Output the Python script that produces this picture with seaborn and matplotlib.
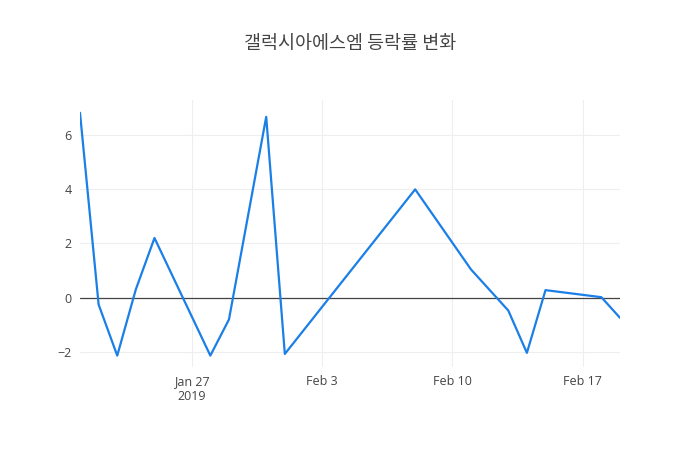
import matplotlib
matplotlib.use('Agg')
import matplotlib.pyplot as plt
import seaborn as sns
import pandas as pd

# trading days and daily change rate (%)
dates = ['2019-01-21', '2019-01-22', '2019-01-23', '2019-01-24', '2019-01-25',
         '2019-01-28', '2019-01-29', '2019-01-31', '2019-02-01', '2019-02-08',
         '2019-02-11', '2019-02-13', '2019-02-14', '2019-02-15', '2019-02-18',
         '2019-02-19']
rates = [6.81, -0.25, -2.13, 0.31, 2.2,
         -2.13, -0.8, 6.66, -2.07, 3.99,
         1.04, -0.47, -2.03, 0.28, 0.02,
         -0.74]
title = '갤럭시아에스엠 등락률 변화'

df = pd.DataFrame({'date': pd.to_datetime(dates), 'rate': rates})

sns.set_style('white')
plt.rcParams['font.family'] = ['Open Sans', 'Noto Sans CJK KR', 'DejaVu Sans']

fig = plt.figure(figsize=(7, 4.5), dpi=100)
ax = fig.add_axes([80 / 700, 1 - 367 / 450, 540 / 700, 267 / 450])

ax.axhline(0, color='#444444', lw=0.9, zorder=1)
sns.lineplot(data=df, x='date', y='rate', ax=ax, color='#1a7fe6', lw=1.6, zorder=3)

ax.set_xlim(df['date'].min(), df['date'].max())
ax.set_ylim(-2.55, 7.28)
ax.set_yticks([-2, 0, 2, 4, 6])
ax.set_yticklabels(['\u22122', '0', '2', '4', '6'])

xt = pd.to_datetime(['2019-01-27', '2019-02-03', '2019-02-10', '2019-02-17'])
ax.set_xticks(xt)
ax.set_xticklabels(['Jan 27\n2019', 'Feb 3', 'Feb 10', 'Feb 17'])

ax.grid(True, color='#eeeeee', lw=0.8, zorder=0)
for s in ax.spines.values():
    s.set_visible(False)
ax.tick_params(length=0, labelsize=9, colors='#444444', pad=6)
ax.set_xlabel('')
ax.set_ylabel('')

fig.text(0.5, 1 - 44 / 450, title, ha='center', va='center', fontsize=13.3,
         color='#444444', family=['Noto Sans CJK KR', 'DejaVu Sans'])

fig.savefig('out.png', dpi=100)
